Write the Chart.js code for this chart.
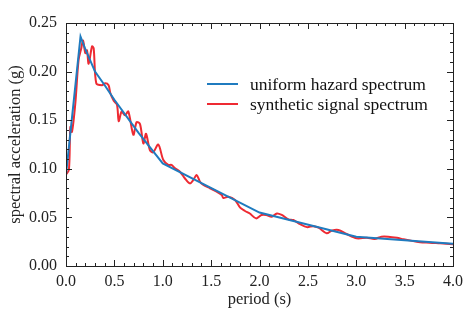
<!DOCTYPE html>
<html>
<head>
<meta charset="utf-8">
<script src="https://cdn.jsdelivr.net/npm/chart.js@4.4.0/dist/chart.umd.min.js"></script>
<style>
  html, body { margin: 0; padding: 0; background: #fff; }
  #wrap { width: 469px; height: 321px; position: relative; }
</style>
</head>
<body>
<div id="wrap"><canvas id="spectrumChart"></canvas></div>
<script>
// uniform hazard spectrum (blue)
const uhsPeriods = [0.0, 0.15, 0.2, 0.3, 0.4, 0.5, 0.75, 1.0, 2.0, 3.0, 4.0];
const uhsValues  = [0.094, 0.236, 0.223, 0.200, 0.186, 0.171, 0.137, 0.1056, 0.055, 0.030, 0.023];

// synthetic signal spectrum (red)
const synPeriods = [0.0, 0.03, 0.045, 0.062, 0.097, 0.13, 0.158, 0.176, 0.2, 0.217, 0.234, 0.269, 0.286,
  0.313, 0.372, 0.406, 0.44, 0.458, 0.493, 0.527, 0.545, 0.575, 0.61, 0.644, 0.696, 0.73, 0.765, 0.8,
  0.827, 0.868, 0.902, 0.954, 1.006, 1.057, 1.09, 1.127, 1.178, 1.23, 1.28, 1.316, 1.35, 1.385, 1.42,
  1.488, 1.557, 1.61, 1.626, 1.678, 1.747, 1.80, 1.85, 1.90, 1.964, 2.02, 2.07, 2.126, 2.18, 2.23, 2.30,
  2.35, 2.42, 2.49, 2.556, 2.61, 2.695, 2.746, 2.815, 2.90, 3.005, 3.11, 3.19, 3.26, 3.33, 3.42, 3.49,
  3.59, 3.66, 3.76, 3.866, 4.0];
const synValues  = [0.094, 0.099, 0.143, 0.138, 0.168, 0.212, 0.224, 0.232, 0.219, 0.222, 0.208, 0.226, 0.224,
  0.188, 0.186, 0.188, 0.186, 0.178, 0.170, 0.166, 0.149, 0.159, 0.155, 0.159, 0.135, 0.148, 0.146, 0.126,
  0.136, 0.119, 0.117, 0.125, 0.109, 0.104, 0.104, 0.1005, 0.097, 0.090, 0.085, 0.0885, 0.0936, 0.0867, 0.0833,
  0.080, 0.0765, 0.073, 0.070, 0.0713, 0.068, 0.060, 0.0566, 0.054, 0.049, 0.0525, 0.0525, 0.0507, 0.054, 0.0525, 0.048,
  0.0473, 0.043, 0.040, 0.041, 0.0394, 0.0336, 0.0363, 0.037, 0.0329, 0.0285, 0.029, 0.0278, 0.0302, 0.0302, 0.029, 0.0275,
  0.0257, 0.0244, 0.024, 0.0233, 0.0225];

const seriesLabels = ['uniform hazard spectrum', 'synthetic signal spectrum'];
const xTicks = [0.0, 0.5, 1.0, 1.5, 2.0, 2.5, 3.0, 3.5, 4.0];
const yTicks = [0.00, 0.05, 0.10, 0.15, 0.20, 0.25];

const FONT = "'Liberation Serif', 'Times New Roman', serif";
const BLUE = '#1f7bbf';
const RED = '#ee2a32';

function toPoints(xs, ys) {
    return xs.map((x, i) => ({ x: x, y: ys[i] }));
}

// frame, inward ticks on all four sides, and the legend inside the plot
const framePlugin = {
    id: 'frame',
    afterDraw(chart) {
        const ctx = chart.ctx;
        const area = chart.chartArea;
        const xs = chart.scales.x;
        const ys = chart.scales.y;
        ctx.save();
        ctx.strokeStyle = '#222';
        ctx.lineWidth = 1;
        ctx.strokeRect(Math.round(area.left) + 0.5, Math.round(area.top) + 0.5,
            Math.round(area.right - area.left), Math.round(area.bottom - area.top));

        ctx.beginPath();
        for (let i = 0; i <= 40; i++) {
            const v = i / 10;
            const px = Math.round(xs.getPixelForValue(v)) + 0.5;
            const len = (i % 5 === 0) ? 6 : 3;
            ctx.moveTo(px, area.bottom); ctx.lineTo(px, area.bottom - len);
            ctx.moveTo(px, area.top); ctx.lineTo(px, area.top + len);
        }
        for (let i = 0; i <= 25; i++) {
            const v = i / 100;
            const py = Math.round(ys.getPixelForValue(v)) + 0.5;
            const len = (i % 5 === 0) ? 6 : 3;
            ctx.moveTo(area.left, py); ctx.lineTo(area.left + len, py);
            ctx.moveTo(area.right, py); ctx.lineTo(area.right - len, py);
        }
        ctx.stroke();

        // legend
        ctx.font = '17.5px ' + FONT;
        ctx.textBaseline = 'middle';
        ctx.fillStyle = '#111';
        chart.data.datasets.forEach((ds, i) => {
            const y = 84 + i * 20;
            ctx.strokeStyle = ds.borderColor;
            ctx.lineWidth = 2;
            ctx.beginPath();
            ctx.moveTo(207, y); ctx.lineTo(238, y);
            ctx.stroke();
            ctx.fillText(ds.label, 250, y + 1);
        });
        ctx.restore();
    }
};

new Chart(document.getElementById('spectrumChart'), {
    type: 'line',
    data: {
        datasets: [
            {
                label: seriesLabels[0],
                data: toPoints(uhsPeriods, uhsValues),
                borderColor: BLUE,
                borderWidth: 2,
                pointRadius: 0,
                tension: 0
            },
            {
                label: seriesLabels[1],
                data: toPoints(synPeriods, synValues),
                borderColor: RED,
                borderWidth: 2,
                pointRadius: 0,
                tension: 0.3
            }
        ]
    },
    options: {
        responsive: true,
        maintainAspectRatio: false,
        animation: false,
        layout: { padding: { top: 23, right: 16, left: 0, bottom: 11 } },
        plugins: { legend: { display: false }, tooltip: { enabled: false } },
        scales: {
            x: {
                type: 'linear',
                min: 0, max: 4,
                grid: { display: false, drawTicks: false },
                border: { display: false },
                afterBuildTicks: s => { s.ticks = xTicks.map(v => ({ value: v })); },
                afterFit: s => { s.height = 44; },
                ticks: {
                    padding: 6,
                    color: '#222',
                    font: { family: FONT, size: 16 },
                    callback: v => v.toFixed(1)
                },
                title: {
                    display: true,
                    text: 'period (s)',
                    color: '#222',
                    font: { family: FONT, size: 16.5 },
                    padding: { top: 2, bottom: 0 }
                }
            },
            y: {
                min: 0, max: 0.25,
                grid: { display: false, drawTicks: false },
                border: { display: false },
                afterBuildTicks: s => { s.ticks = yTicks.map(v => ({ value: v })); },
                afterFit: s => { s.width = 66; },
                ticks: {
                    padding: 9,
                    color: '#222',
                    font: { family: FONT, size: 16 },
                    callback: v => v.toFixed(2)
                },
                title: {
                    display: true,
                    text: 'spectral acceleration (g)',
                    color: '#222',
                    font: { family: FONT, size: 16.5 },
                    padding: { top: 6, bottom: 0 }
                }
            }
        }
    },
    plugins: [framePlugin]
});
</script>
</body>
</html>
